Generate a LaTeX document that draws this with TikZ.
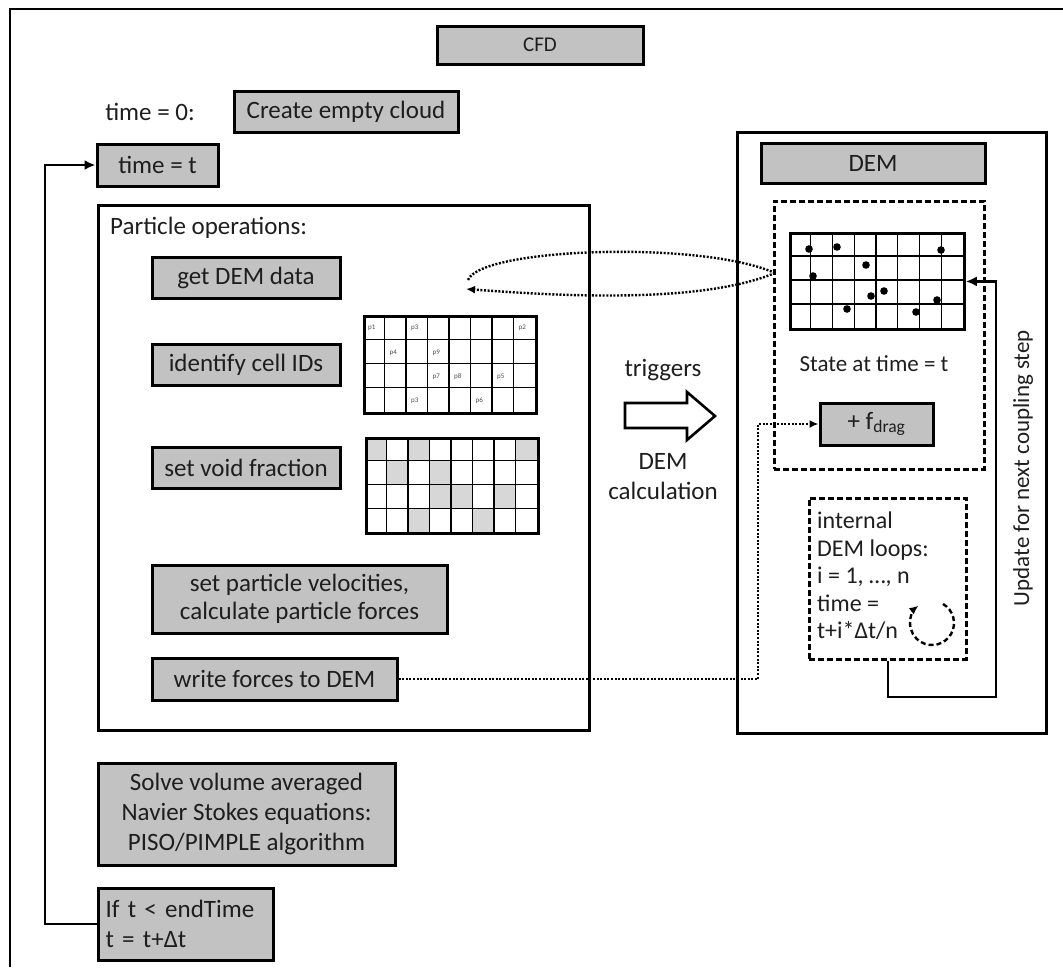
\documentclass[tikz,border=0pt]{standalone}
\usepackage{fontspec}
\setmainfont{Carlito}
\usetikzlibrary{arrows.meta,calc}
\definecolor{boxgray}{RGB}{194,194,194}
\definecolor{cellgray}{RGB}{215,215,215}
\definecolor{txt}{RGB}{30,30,30}
\newcommand\fsz{\fontsize{25}{28}\selectfont}
\begin{document}
\begin{tikzpicture}[x=1pt,y=-1pt,
  gbox/.style={draw, line width=3pt, fill=boxgray, font=\fsz, text=txt, inner sep=0pt, align=center},
  frame/.style={draw, line width=2.5pt, inner sep=0pt},
  dbox/.style={draw, line width=2.6pt, dash pattern=on 6pt off 3pt, inner sep=0pt},
  lbl/.style={font=\fsz, text=txt, inner sep=0pt},
  conn/.style={line width=2.6pt},
  dotconn/.style={line width=2.4pt, dash pattern=on 2pt off 1.6pt},
  gline/.style={line width=1.1pt},
  plab/.style={font=\fontsize{7}{8}\selectfont, text=txt!80, inner sep=0pt},
  tipS/.style={-{Latex[length=11pt,width=10pt]}},
  tipD/.style={-{Latex[length=9pt,width=8pt]}}]
\useasboundingbox (0,0) rectangle (1063,967);
% outer frame (only top and left visible)
\coordinate (fbl) at (10,967);
\coordinate (ftl) at (10,9);
\coordinate (ftr) at (1063,9);
\draw[line width=2.8pt] (fbl) -- (ftl) -- (ftr);

% top boxes
\node[gbox, minimum width=206pt, minimum height=38pt, font=\fontsize{21}{24}\selectfont] (cfd) at (540,45) {CFD};
\node[lbl] (t0) at (150,112) {time = 0:};
\node[gbox, minimum width=224pt, minimum height=41pt] (cloud) at (346,111.5) {Create empty cloud};
\node[gbox, minimum width=121pt, minimum height=42pt] (timet) at (157.5,165) {time = t};

% particle operations box
\node[frame, minimum width=491pt, minimum height=525pt, anchor=north west] (pbox) at (97,204) {};
\node[lbl, anchor=west] (ptitle) at (110,228) {Particle operations:};
\node[gbox, minimum width=188pt, minimum height=41pt] (getdem) at (246,277.5) {get DEM data};
\node[gbox, minimum width=188pt, minimum height=41pt] (cellid) at (246,364.5) {identify cell IDs};
\node[gbox, minimum width=188pt, minimum height=41pt] (voidf) at (246,468) {set void fraction};
\node[gbox, minimum width=295pt, minimum height=68pt] (velo) at (299.5,599) {set particle velocities,\\calculate particle forces};
\node[gbox, minimum width=245pt, minimum height=42pt] (writef) at (274.5,679) {write forces to DEM};

% grid 1 (cell IDs)
\foreach \i in {1,...,7} \draw[gline] ({363+\i*21.5},315) -- ({363+\i*21.5},412);
\foreach \j in {1,2,3} \draw[gline] (363,{315+\j*24.25}) -- (535,{315+\j*24.25});
\node[frame, line width=2.8pt, minimum width=172pt, minimum height=97pt, anchor=north west] (grid1) at (363,315) {};
\foreach \c/\r/\t in {1/1/p1,3/1/p3,8/1/p2,2/2/p4,4/2/p9,4/3/p7,5/3/p8,7/3/p5,3/4/p3,6/4/p6}
  \node[plab] at ({363+(\c-0.5)*21.5-2},{315+(\r-0.5)*24.25+1}) {\t};

% grid 2 (void fraction)
\foreach \c/\r in {1/1,3/1,8/1,2/2,4/2,4/3,5/3,7/3,3/4,6/4}
  \fill[cellgray] ({365+(\c-1)*21.5},{437+(\r-1)*23.75}) rectangle ++(21.5,23.75);
\foreach \i in {1,...,7} \draw[gline] ({365+\i*21.5},437) -- ({365+\i*21.5},532);
\foreach \j in {1,2,3} \draw[gline] (365,{437+\j*23.75}) -- (537,{437+\j*23.75});
\node[frame, line width=2.8pt, minimum width=172pt, minimum height=95pt, anchor=north west] (grid2) at (365,437) {};

% triggers arrow
\node[lbl] (trig) at (663,370) {triggers};
\draw[line width=2.6pt, fill=white] (625,403) -- (687,403) -- (687,392) -- (715,416) -- (687,440) -- (687,428) -- (625,428) -- cycle;
\node[lbl, align=center, font=\fontsize{25}{30}\selectfont] (demcalc) at (663,477) {DEM\\calculation};

% DEM side
\node[frame, line width=2.6pt, minimum width=309pt, minimum height=601pt, anchor=north west] (dembox) at (736,131) {};
\node[gbox, minimum width=224pt, minimum height=40pt] (demhead) at (873,163) {DEM};
\node[dbox, minimum width=210pt, minimum height=268pt, anchor=north west] (state) at (773,200) {};
\foreach \i in {1,...,7} \draw[gline] ({789+\i*21.75},232) -- ({789+\i*21.75},328);
\foreach \j in {1,2,3} \draw[gline] (789,{232+\j*24}) -- (963,{232+\j*24});
\node[frame, line width=2.8pt, minimum width=174pt, minimum height=96pt, anchor=north west] (demgrid) at (789,232) {};
\foreach \p in {(809,249),(837,247),(941,250),(866,265),(813,276),(884,291),(871,296),(937,300),(847,309),(916,312)}
  \fill \p circle (3.8);
\node[lbl, font=\fontsize{23}{26}\selectfont] (statet) at (874,364) {State at time = t};
\node[gbox, minimum width=113pt, minimum height=42pt] (fdrag) at (876.5,424) {+ f\textsubscript{drag}};
\node[dbox, minimum width=157pt, minimum height=161pt, anchor=north west] (internal) at (808,497) {};
\node[lbl, anchor=north west, align=left, font=\fontsize{24}{27.5}\selectfont] (inttext) at (817,512) {internal\\DEM loops:\\i = 1, …, n\\time =\\t+i*Δt/n};
\coordinate (cc) at (932,623);
\draw[line width=2.4pt, dash pattern=on 5pt off 3pt, tipD] ($(cc)+(-60:22)$) arc[start angle=-60, end angle=232, radius=22];
\node[lbl, rotate=90, font=\fontsize{23}{26}\selectfont] (upd) at (1023,468) {Update for next coupling step};

% bottom boxes
\node[gbox, minimum width=297pt, minimum height=102pt, font=\fontsize{25}{30}\selectfont] (solve) at (246.5,814) {Solve volume averaged\\Navier Stokes equations:\\PISO/PIMPLE algorithm};
\node[gbox, minimum width=175pt, minimum height=72pt, align=left, text width=160pt, font=\fontsize{25}{30}\selectfont] (ifbox) at (185.5,924) {If t < endTime\\t = t+Δt};

% connectors
\coordinate (loopx) at (45,0);
\draw[conn, tipS] (ifbox.west) -- (ifbox.west -| loopx) |- (timet.west);
\coordinate (pinch) at (775,273);
\draw[dotconn] (pinch) .. controls (700,240) and (480,248) .. (468,280);
\draw[dotconn, tipD] (pinch) .. controls (700,304) and (560,296) .. (466,289);
\coordinate (dotx) at (758,0);
\draw[dotconn, tipD] (writef.east) -- (writef.east -| dotx) |- (fdrag.west);
\coordinate (u1) at (996,697);
\draw[conn, tipS] (internal.south) |- (u1) |- (demgrid.east);
\end{tikzpicture}
\end{document}
